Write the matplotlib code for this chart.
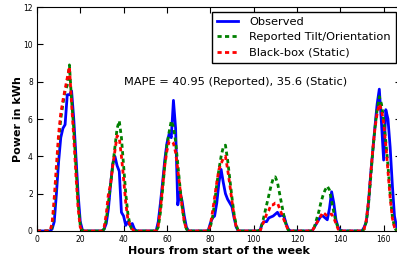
import numpy as np
import matplotlib
matplotlib.use("Agg")
import matplotlib.pyplot as plt

# hourly values for one week (hour 0..167)
observed = {
    7: 0.1, 8: 0.5, 9: 2.0, 10: 3.7, 11: 5.0, 12: 5.5, 13: 5.7, 14: 7.3, 15: 7.3, 16: 7.5,
    17: 6.0, 18: 4.0, 19: 2.0, 20: 0.5, 21: 0.05,
    31: 0.1, 32: 0.4, 33: 1.2, 34: 2.5, 35: 3.6, 36: 4.0, 37: 3.5, 38: 3.2, 39: 1.0, 40: 0.8,
    41: 0.3, 42: 0.5, 43: 0.3, 44: 0.4, 45: 0.1,
    56: 0.5, 57: 1.5, 58: 2.6, 59: 3.8, 60: 4.7, 61: 5.2, 62: 5.0, 63: 7.0, 64: 5.5, 65: 1.4,
    66: 2.1, 67: 1.6, 68: 0.8, 69: 0.2,
    80: 0.4, 81: 0.7, 82: 0.8, 83: 1.5, 84: 2.6, 85: 3.3, 86: 2.6, 87: 2.0, 88: 1.7, 89: 1.5,
    90: 1.3, 91: 0.7, 92: 0.2,
    103: 0.05, 104: 0.4, 105: 0.5, 106: 0.5, 107: 0.7, 108: 0.75, 109: 0.8, 110: 0.9, 111: 1.0,
    112: 0.8, 113: 0.85, 114: 0.8, 115: 0.4, 116: 0.1,
    128: 0.2, 129: 0.4, 130: 0.6, 131: 0.8, 132: 0.8, 133: 0.7, 134: 0.6, 135: 1.2, 136: 2.1,
    137: 1.5, 138: 0.6, 139: 0.2, 140: 0.05,
    151: 0.2, 152: 0.5, 153: 1.5, 154: 3.0, 155: 4.3, 156: 5.6, 157: 6.8, 158: 7.6, 159: 5.8,
    160: 3.8, 161: 6.5, 162: 6.0, 163: 4.5, 164: 2.5, 165: 0.8, 166: 0.2,
}
reported = {
    7: 0.2, 8: 1.3, 9: 3.0, 10: 4.8, 11: 6.0, 12: 6.8, 13: 7.5, 14: 7.8, 15: 8.9, 16: 7.0,
    17: 5.5, 18: 3.5, 19: 1.5, 20: 0.3,
    31: 0.1, 32: 0.6, 33: 1.5, 34: 2.5, 35: 3.5, 36: 4.5, 37: 5.5, 38: 5.9, 39: 5.0, 40: 3.5,
    41: 2.0, 42: 0.9, 43: 0.3, 44: 0.05,
    56: 0.2, 57: 1.0, 58: 2.2, 59: 3.5, 60: 4.6, 61: 5.3, 62: 5.9, 63: 5.6, 64: 4.8, 65: 3.6,
    66: 2.4, 67: 1.3, 68: 0.5, 69: 0.1,
    80: 0.2, 81: 0.7, 82: 1.5, 83: 2.5, 84: 3.3, 85: 4.0, 86: 4.5, 87: 4.6, 88: 3.8, 89: 2.8,
    90: 1.8, 91: 0.9, 92: 0.3,
    103: 0.1, 104: 0.4, 105: 0.9, 106: 1.4, 107: 1.9, 108: 2.4, 109: 2.8, 110: 2.9, 111: 2.6,
    112: 2.0, 113: 1.4, 114: 0.8, 115: 0.3, 116: 0.05,
    128: 0.2, 129: 0.6, 130: 1.0, 131: 1.5, 132: 1.9, 133: 2.2, 134: 2.4, 135: 2.2, 136: 1.6,
    137: 1.0, 138: 0.5, 139: 0.15,
    151: 0.1, 152: 0.5, 153: 1.4, 154: 2.8, 155: 4.3, 156: 5.5, 157: 6.5, 158: 7.2, 159: 6.8,
    160: 6.0, 161: 4.8, 162: 3.5, 163: 2.0, 164: 0.8, 165: 0.2,
}
static = {
    7: 0.4, 8: 1.8, 9: 3.5, 10: 5.2, 11: 6.3, 12: 7.0, 13: 7.6, 14: 8.2, 15: 8.8, 16: 6.8,
    17: 5.0, 18: 3.0, 19: 1.2, 20: 0.2,
    31: 0.2, 32: 0.9, 33: 2.0, 34: 2.5, 35: 3.5, 36: 4.3, 37: 5.1, 38: 5.0, 39: 4.0, 40: 2.8,
    41: 1.5, 42: 0.6, 43: 0.3, 44: 0.1,
    56: 0.3, 57: 1.2, 58: 2.4, 59: 3.5, 60: 4.3, 61: 4.8, 62: 4.8, 63: 4.7, 64: 4.2, 65: 3.3,
    66: 2.3, 67: 1.3, 68: 0.5, 69: 0.1,
    80: 0.3, 81: 1.0, 82: 1.8, 83: 2.6, 84: 3.3, 85: 3.6, 86: 3.9, 87: 4.0, 88: 3.3, 89: 2.5,
    90: 1.6, 91: 0.8, 92: 0.2,
    104: 0.3, 105: 0.6, 106: 0.9, 107: 1.1, 108: 1.4, 109: 1.4, 110: 1.5, 111: 1.5, 112: 1.2,
    113: 0.9, 114: 0.6, 115: 0.3, 116: 0.05,
    128: 0.2, 129: 0.4, 130: 0.6, 131: 0.8, 132: 1.0, 133: 0.9, 134: 0.8, 135: 0.9, 136: 0.9,
    137: 0.7, 138: 0.4, 139: 0.1,
    151: 0.1, 152: 0.6, 153: 1.6, 154: 3.0, 155: 4.4, 156: 5.5, 157: 6.3, 158: 6.8, 159: 6.5,
    160: 5.8, 161: 4.6, 162: 3.2, 163: 1.8, 164: 0.7, 165: 0.2,
}

hours = np.arange(168)


def week(vals):
    y = np.zeros(len(hours))
    for h, v in vals.items():
        y[h] = v
    return y


plt.rcParams["font.family"] = "DejaVu Sans"
fig = plt.figure(figsize=(3.97, 2.61), dpi=100)
# axes run a little past the right edge of the picture, as in the original crop
ax = fig.add_axes([0.093, 0.115, 0.917, 0.858])

ax.plot(hours, week(observed), color="b", lw=2, label="Observed")
ax.plot(hours, week(reported), color="g", lw=2, linestyle=(0, (1.5, 1.2)),
        label="Reported Tilt/Orientation")
ax.plot(hours, week(static), color="r", lw=2, linestyle=(0, (1.5, 1.2)),
        label="Black-box (Static)")

ax.set_xlim(0, 168)
ax.set_ylim(0, 12)
ax.set_xticks(range(0, 161, 20))
ax.set_yticks(range(0, 13, 2))
ax.tick_params(direction="in", top=True, right=True, labelsize=5.5, length=4, pad=3)

ax.set_xlabel("Hours from start of the week", fontsize=8, fontweight="bold", labelpad=1)
ax.set_ylabel("Power in kWh", fontsize=8, fontweight="bold", labelpad=0)

ax.text(40, 8.0, "MAPE = 40.95 (Reported), 35.6 (Static)", fontsize=8.2, va="center")

leg = ax.legend(loc="upper right", fontsize=8.2, fancybox=False, framealpha=1,
                handlelength=1.8, handletextpad=1.0, borderaxespad=0.45,
                labelspacing=0.45, borderpad=0.45)
leg.get_frame().set_edgecolor("black")

fig.savefig("out.png", dpi=100)
